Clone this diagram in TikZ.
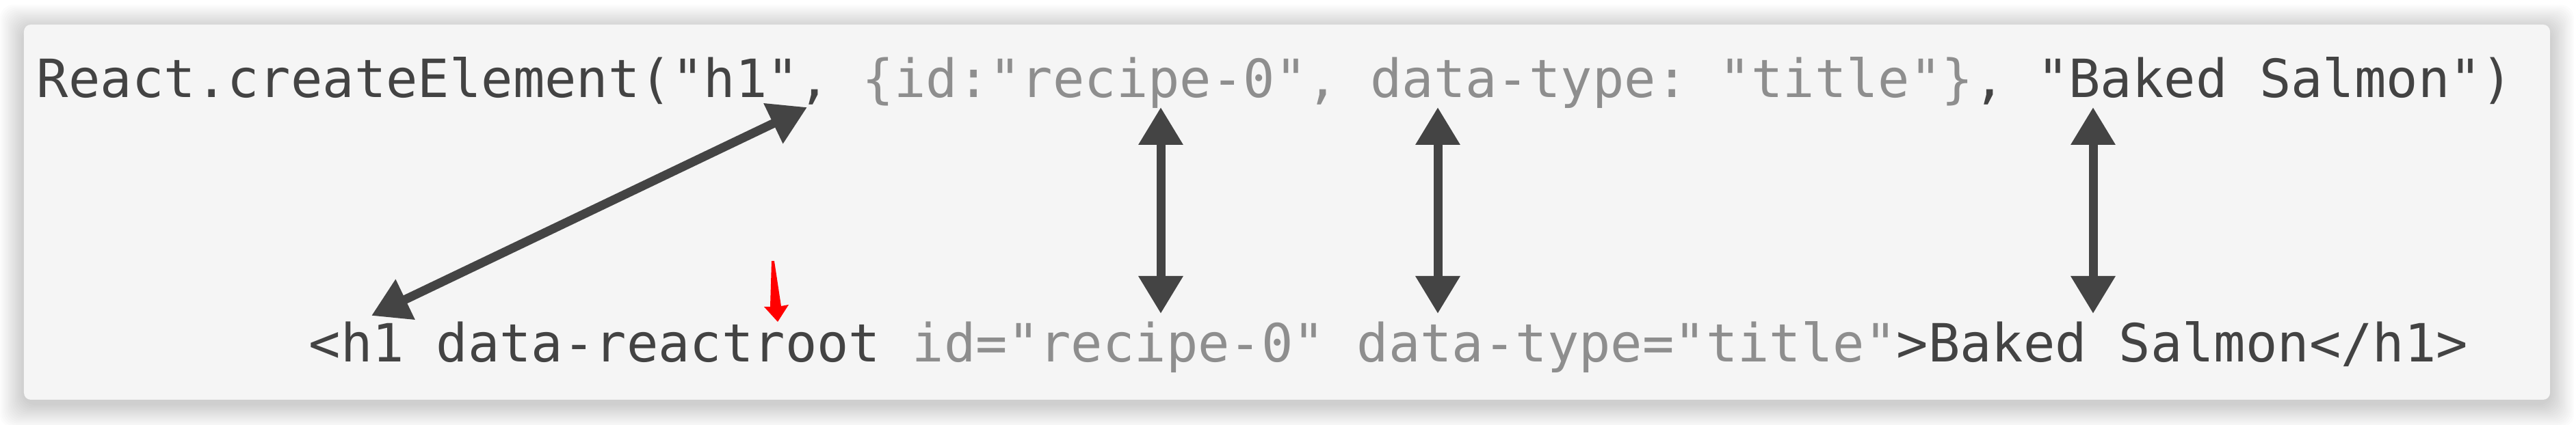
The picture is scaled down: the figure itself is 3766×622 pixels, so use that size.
\documentclass[tikz,border=0pt]{standalone}
\usepackage{fontspec}
\setmonofont{DejaVu Sans Mono}
\usetikzlibrary{arrows.meta}
\definecolor{codedark}{HTML}{434343}
\definecolor{codegray}{HTML}{8E8E8E}
\definecolor{arrowgray}{HTML}{444444}
\definecolor{cardbg}{HTML}{F5F5F5}
\begin{document}
\begin{tikzpicture}[x=0.1pt,y=-0.1pt,
  code/.style={anchor=base west,inner sep=0pt,outer sep=0pt,
    font=\ttfamily\fontsize{7.71pt}{9pt}\selectfont\frenchspacing},
  link/.style={draw=arrowgray,line width=1.3pt,
    {Triangle[length=5.5pt,width=6.2pt]}-{Triangle[length=5.5pt,width=6.2pt]}},
  shadowlayer/.style={fill=black,opacity=0.012,rounded corners=2pt}]
\useasboundingbox[fill=white] (0,0) rectangle (3766,622);
% soft shadow
\foreach \i in {1,...,16} {
  \path[shadowlayer] (35-\i*2.2,36-\i*2.2+6) rectangle (3728+\i*2.2,585+\i*2.2+6);
}
% card
\fill[cardbg,rounded corners=1pt] (35,36) rectangle (3728,585);
% code lines
\node[code] (call) at (54,143) {\color{codedark}React.createElement("h1", \color{codegray}\{id:"recipe-0", data-type: "title"\}\color{codedark}, "Baked Salmon")};
\node[code] (html) at (452,530) {\color{codedark}<h1 data-reactroot \color{codegray}id="recipe-0" data-type="title"\color{codedark}>Baked Salmon</h1>};
% arrow end points
\coordinate (tagtop) at (1180,157);
\coordinate (tagbot) at (543,462);
\coordinate (idtop) at (1697,157);
\coordinate (idbot) at (1697,459);
\coordinate (typetop) at (2102,157);
\coordinate (typebot) at (2102,459);
\coordinate (texttop) at (3060,157);
\coordinate (textbot) at (3060,459);
\draw[link] (tagbot) -- (tagtop);
\draw[link] (idtop) -- (idbot);
\draw[link] (typetop) -- (typebot);
\draw[link] (texttop) -- (textbot);
% red marker arrow
\fill[red] (1128,382) -- (1132,382) -- (1142,448) -- (1153,446) -- (1137,471) -- (1117,449) -- (1126,449) -- cycle;
\end{tikzpicture}
\end{document}
